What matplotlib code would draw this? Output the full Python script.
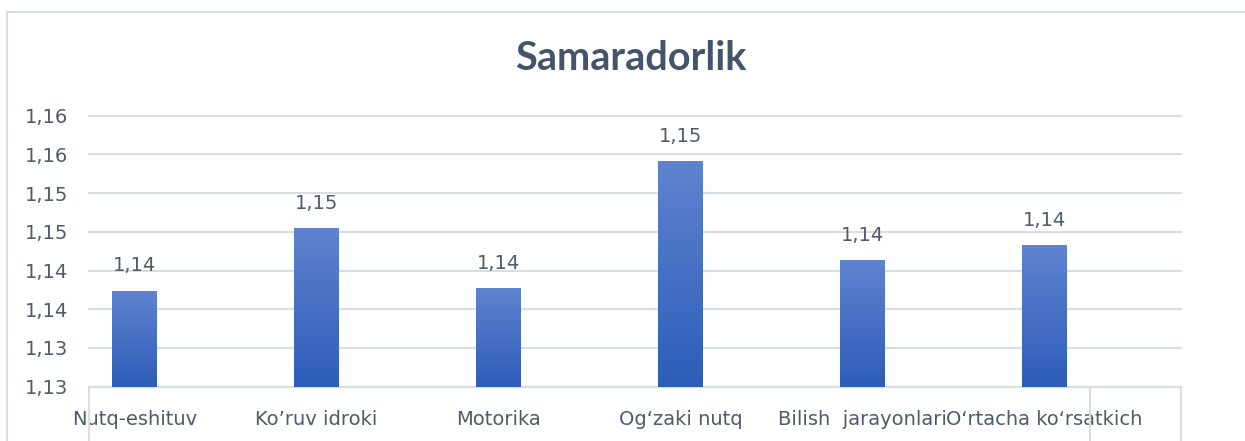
import numpy as np
import matplotlib.pyplot as plt
from matplotlib.colors import LinearSegmentedColormap
from matplotlib.patches import Rectangle

# data
categories = ['Nutq-eshituv', 'Ko\u2019ruv idroki', 'Motorika', 'Og\u2018zaki nutq',
              'Bilish  jarayonlari', 'O\u2018rtacha ko\u2018rsatkich']
values = [1.1374, 1.1455, 1.1377, 1.1541, 1.1413, 1.1433]
ytick_vals = [1.125, 1.13, 1.135, 1.14, 1.145, 1.15, 1.155, 1.16]
ytick_labels = ['1,13', '1,13', '1,14', '1,14', '1,15', '1,15', '1,16', '1,16']

text_col = '#505a6b'
grid_col = '#d9dde4'
font = 'DejaVu Sans'
fs = 14

fig = plt.figure(figsize=(12.45, 4.41), dpi=100)
ax = fig.add_axes([89/1245, 1-386.7/441, (1181-89)/1245, (386.7-115.7)/441])

# chart border
fig.patches.append(Rectangle((7/1245, -0.1), 1.2, 1-12/441+0.1, transform=fig.transFigure,
                             fill=False, edgecolor=grid_col, linewidth=1.5))

x = np.arange(len(categories)) - 0.25
bars = ax.bar(x, values, width=0.242, color='none', zorder=3)

# Excel-like vertical gradient fill
cmap = LinearSegmentedColormap.from_list('g', ['#2d5db9', '#5f83cf'])
grad = np.linspace(0, 1, 256).reshape(-1, 1)
for b, v in zip(bars, values):
    im = ax.imshow(grad, cmap=cmap, origin='lower', aspect='auto', zorder=3,
                   extent=[b.get_x(), b.get_x()+b.get_width(), ytick_vals[0], v])
    im.set_clip_path(b)
    ax.annotate(f'{v:.2f}'.replace('.', ','), (b.get_x()+b.get_width()/2, v),
                xytext=(0, 11), textcoords='offset points', ha='center', va='bottom',
                fontsize=fs, color=text_col, family=font)

ax.set_xlim(-0.5, 5.5)
ax.set_ylim(ytick_vals[0], ytick_vals[-1])
ax.set_yticks(ytick_vals)
ax.set_yticklabels(ytick_labels)
ax.set_xticks(x)
ax.set_xticklabels(categories)
ax.tick_params(axis='y', length=0, pad=15, labelsize=fs, labelcolor=text_col)
ax.tick_params(axis='x', length=0, pad=17, labelsize=fs, labelcolor=text_col)
for lab in ax.get_yticklabels() + ax.get_xticklabels():
    lab.set_family(font)

ax.grid(axis='y', color=grid_col, linewidth=1.5, zorder=0)
ax.set_axisbelow(True)
for gl in ax.get_ygridlines():
    gl.set_clip_on(False)
for s in ['top', 'right', 'left']:
    ax.spines[s].set_visible(False)
ax.spines['bottom'].set_color(grid_col)
ax.spines['bottom'].set_linewidth(1.5)

# category axis divider lines below the axis
for xv in [-0.5, 5.0, 5.5]:
    ax.plot([xv, xv], [0, -0.3], transform=ax.get_xaxis_transform(), color=grid_col,
            linewidth=1.5, clip_on=False)

fig.text(631/1245, 1-58/441, 'Samaradorlik', ha='center', va='center', fontsize=28.5,
         fontweight='bold', color='#44546a', family='Lato')

plt.savefig('out.png', dpi=100)
